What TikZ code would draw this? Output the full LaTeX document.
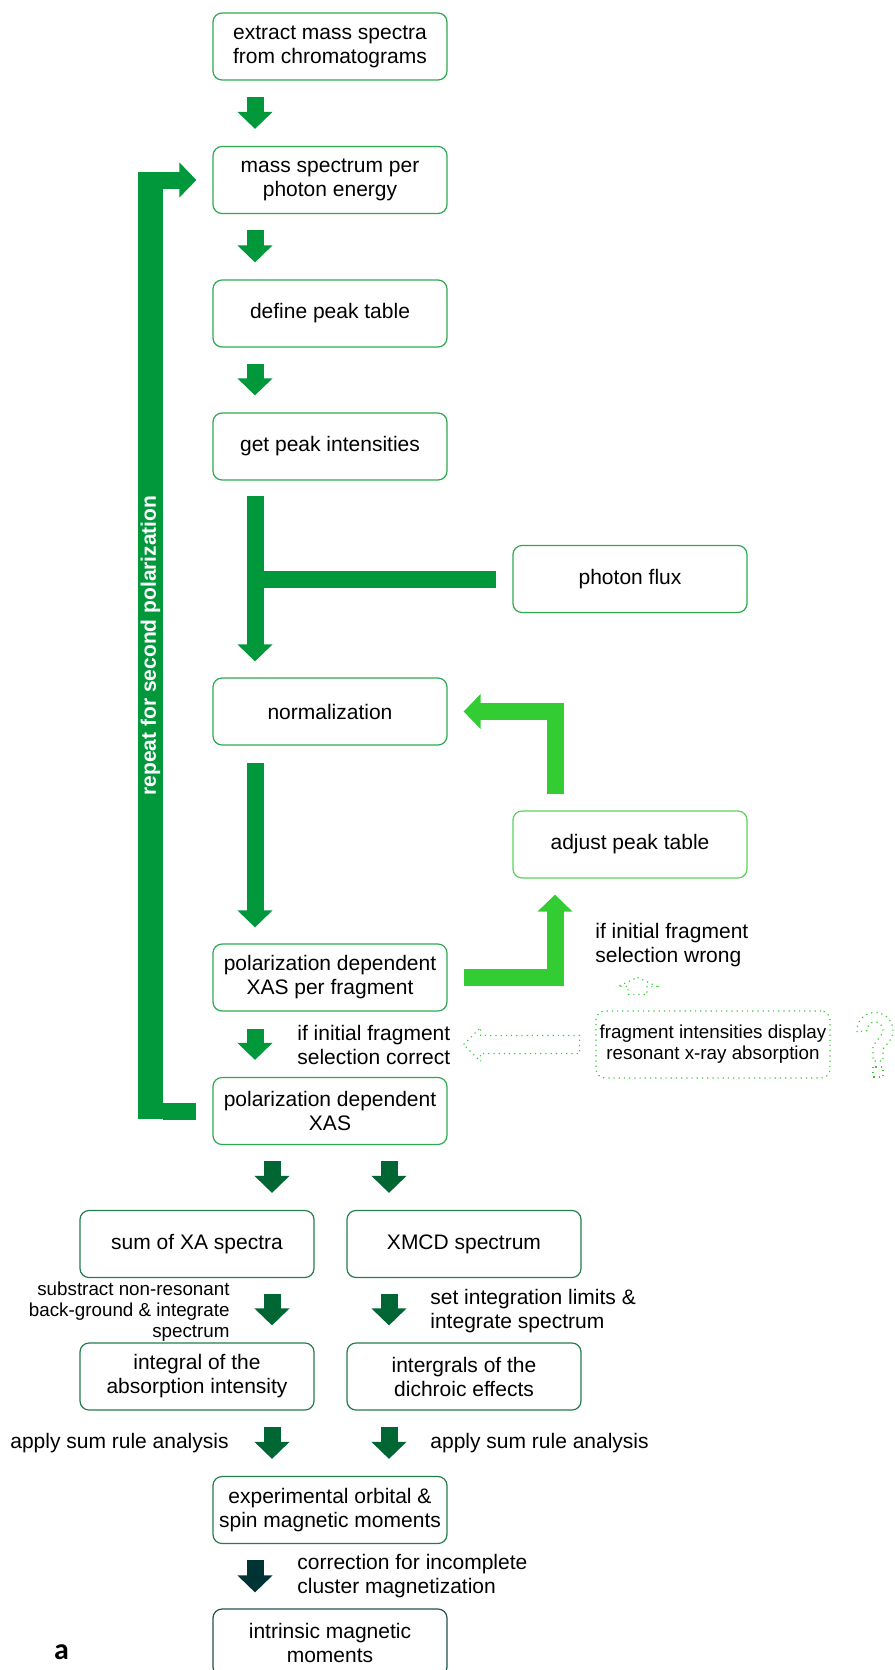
\documentclass[tikz,border=0pt]{standalone}
\usepackage{fontspec}
\setmainfont{Liberation Sans}
\newfontfamily\panelfont{Carlito}
\usetikzlibrary{arrows.meta,calc}
\definecolor{xasgreen}{RGB}{0,152,58}
\definecolor{xaslight}{RGB}{51,204,51}
\definecolor{xasdark}{RGB}{0,102,51}
\definecolor{xasdeep}{RGB}{0,51,51}
\definecolor{boxgreen}{RGB}{45,170,80}
\definecolor{boxlight}{RGB}{90,210,90}
\definecolor{boxdark}{RGB}{35,125,75}
\definecolor{boxdeep}{RGB}{35,80,80}

\tikzset{
  box/.style={draw=boxgreen, line width=0.6pt, rounded corners=4.5pt, minimum width=117pt, minimum height=33.5pt, inner sep=1pt, align=center},
  flow/.style={xasgreen, line width=8.5pt, -{Triangle[length=8.5pt,width=17pt]}},
  bar/.style={xasgreen, line width=8.5pt},
  hollow/.style={xaslight, dotted, line width=0.6pt},
  lbl/.style={inner sep=0pt, align=left},
  small/.style={font=\fontsize{9.4pt}{10.5pt}\selectfont}
}

\begin{document}
\begin{tikzpicture}[x=0.5pt, y=-0.5pt, font=\fontsize{10.5pt}{12pt}\selectfont]
    \useasboundingbox (0,0) rectangle (894,1670);

    % Main column
    \node[box] (extract) at (330,46.5) {extract mass spectra\\from chromatograms};
    \node[box] (massspec) at (330,180) {mass spectrum per\\photon energy};
    \node[box] (peaktab) at (330,313.5) {define peak table};
    \node[box] (peakint) at (330,446.5) {get peak intensities};
    \node[box] (flux) at (630,579) {photon flux};
    \node[box] (norm) at (330,711.5) {normalization};
    \node[box, draw=boxlight] (adjust) at (630,844.5) {adjust peak table};
    \node[box] (frag) at (330,977.5) {polarization dependent\\XAS per fragment};
    \node[box] (xas) at (330,1111) {polarization dependent\\XAS};
    \node[box, draw=xaslight, dotted, small] (fragint) at (713,1044.5) {fragment intensities display\\resonant x-ray absorption};

    % Evaluation branches
    \node[box, draw=boxdark] (sumxa) at (197,1244) {sum of XA spectra};
    \node[box, draw=boxdark] (xmcd) at (464,1244) {XMCD spectrum};
    \node[box, draw=boxdark] (intabs) at (197,1376.5) {integral of the\\absorption intensity};
    \node[box, draw=boxdark] (intdich) at (464,1376.5) {intergrals of the\\dichroic effects};
    \node[box, draw=boxdark] (expmom) at (330,1510) {experimental orbital \&\\spin magnetic moments};
    \node[box, draw=boxdeep] (intrinsic) at (330,1642.5) {intrinsic magnetic\\moments};

    % Labels
    \node[lbl, anchor=west] (wronglbl) at (595,945) {if initial fragment\\selection wrong};
    \node[lbl, anchor=west] (correctlbl) at (297,1044.5) {if initial fragment\\selection correct};
    \node[lbl, anchor=east, align=right, small] (subtrlbl) at (230,1311.5) {substract non-resonant\\back-ground \& integrate\\spectrum};
    \node[lbl, anchor=west] (setlbl) at (430,1311) {set integration limits \&\\integrate spectrum};
    \node[lbl, anchor=east] (rulelbla) at (229,1443) {apply sum rule analysis};
    \node[lbl, anchor=west] (rulelblb) at (430,1443) {apply sum rule analysis};
    \node[lbl, anchor=west] (corrlbl) at (297,1576.5) {correction for incomplete\\cluster magnetization};
    \node[inner sep=0pt, font=\panelfont\bfseries\fontsize{15pt}{15pt}\selectfont] (panel) at (61.5,1652) {a};

    % Repeat loop
    \node[fill=xasgreen, text=white, rotate=90, inner sep=0pt, minimum width=473.5pt, minimum height=12.5pt, font=\bfseries\fontsize{10.5pt}{12pt}\selectfont] (repeat) at (150.5,645.5) {repeat for second polarization};
    \draw[bar] ($(xas.west)+(-16,0)$) -- (xas.west -| repeat.south);
    \draw[flow] (massspec.west -| repeat.south) -- ($(massspec.west)+(-16,0)$);

    % Main arrows
    \draw[flow] ($(extract.south)+(-75,16)$) -- ($(massspec.north)+(-75,-17)$);
    \draw[flow] ($(massspec.south)+(-75,16)$) -- ($(peaktab.north)+(-75,-17)$);
    \draw[flow] ($(peaktab.south)+(-75,16)$) -- ($(peakint.north)+(-75,-17)$);
    \draw[flow] ($(peakint.south)+(-75,15)$) -- ($(norm.north)+(-75,-16)$);
    \draw[bar] ($(flux.west)+(-16,0)$) -- ($(flux.west)+(-258,0)$);
    \draw[flow] ($(norm.south)+(-75,17)$) -- ($(frag.north)+(-75,-16)$);
    \draw[flow] ($(frag.south)+(-75,17)$) -- ($(xas.north)+(-75,-17)$);

    % Peak table loop
    \draw[flow, xaslight, line join=miter] ($(frag.east)+(16,0)$) -| ($(adjust.south)+(-75,16)$);
    \draw[flow, xaslight, line join=miter] ($(adjust.north)+(-75,-16)$) |- ($(norm.east)+(16,0)$);

    % Dotted hints
    \draw[hollow] ($(frag.east |- fragint.west)+(16,0)$) -- ++(17,-17) -- ++(0,8) -- ++(99,0) -- ++(0,18) -- ++(-99,0) -- ++(0,8) -- cycle;
    \draw[hollow] ($(fragint.north)+(-75.5,-33)$) -- ++(19.5,9) -- ++(-10,0) -- ++(0,8) -- ++(-19,0) -- ++(0,-8) -- ++(-10,0) -- cycle;
    \draw[hollow] (857,1032) arc[start angle=175, end angle=400, radius=18] -- (883,1049) -- (883,1061) -- (873,1061) -- (873,1046) -- (881.1,1035.1) arc[start angle=400, end angle=175, radius=8] -- cycle;
    \draw[hollow] (873,1067) rectangle (883,1077);

    % Evaluation arrows
    \draw[flow, xasdark] ($(xas.south)+(-58,16)$) -- ($(sumxa.north)+(75,-17)$);
    \draw[flow, xasdark] ($(xas.south)+(59,16)$) -- ($(xmcd.north)+(-75,-17)$);
    \draw[flow, xasdark] ($(sumxa.south)+(75,16)$) -- ($(intabs.north)+(75,-17)$);
    \draw[flow, xasdark] ($(xmcd.south)+(-75,16)$) -- ($(intdich.north)+(-75,-17)$);
    \draw[flow, xasdark] ($(intabs.south)+(75,16)$) -- ($(expmom.north)+(-58,-17)$);
    \draw[flow, xasdark] ($(intdich.south)+(-75,16)$) -- ($(expmom.north)+(59,-17)$);
    \draw[flow, xasdeep] ($(expmom.south)+(-75,16)$) -- ($(intrinsic.north)+(-75,-16)$);
\end{tikzpicture}
\end{document}
